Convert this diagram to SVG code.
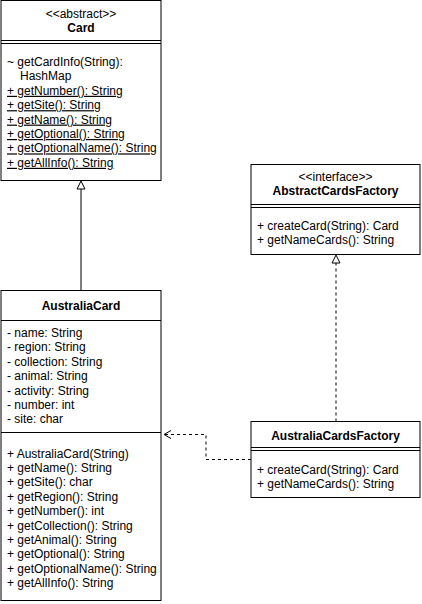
<svg xmlns="http://www.w3.org/2000/svg" width="422" height="604" viewBox="0 0 422 604">
<style>
text{font-family:"Liberation Sans",Arial,sans-serif;font-size:12px;fill:#000}
.c{text-anchor:middle}
.b{font-weight:bold}
.u{text-decoration:underline}
.box{fill:#fff;stroke:#000;stroke-width:1}
.ln{stroke:#000;stroke-width:1;fill:none}
.dash{stroke:#000;stroke-width:1;fill:none;stroke-dasharray:3 3}
</style>
<rect width="422" height="604" fill="#fff"/>
<g id="connectors">
  <path class="ln" d="M81 290.5V189"/>
  <path d="M81 181L85 189H77Z" fill="#fff" stroke="#000"/>
  <path class="dash" d="M336 421.5V263"/>
  <path d="M336 255L340 263H332Z" fill="#fff" stroke="#000"/>
  <path class="dash" d="M251 459.5H206V434.5H165"/>
  <path class="ln" d="M171 430.5L164 434.5L171 438.5"/>
</g>
<g id="Card">
  <rect class="box" x="1" y="0.5" width="160" height="180"/>
  <line class="ln" x1="1" y1="40.5" x2="161" y2="40.5"/>
  <line class="ln" x1="1" y1="43.5" x2="161" y2="43.5"/>
  <text class="c" x="81" y="18">&lt;&lt;abstract&gt;&gt;</text>
  <text class="c b" x="81" y="32.4">Card</text>
  <text x="7" y="66">~ getCardInfo(String):</text>
  <text x="20" y="80.4">HashMap</text>
  <text class="u" x="7" y="94.8">+ getNumber(): String</text>
  <text class="u" x="7" y="109.2">+ getSite(): String</text>
  <text class="u" x="7" y="123.6">+ getName(): String</text>
  <text class="u" x="7" y="138">+ getOptional(): String</text>
  <text class="u" x="7" y="152.4">+ getOptionalName(): String</text>
  <text class="u" x="7" y="166.8">+ getAllInfo(): String</text>
</g>
<g id="AustraliaCard">
  <rect class="box" x="1" y="290.5" width="160" height="310"/>
  <line class="ln" x1="1" y1="320.5" x2="161" y2="320.5"/>
  <line class="ln" x1="1" y1="432.5" x2="161" y2="432.5"/>
  <text class="c b" x="81" y="310">AustraliaCard</text>
  <text x="7" y="337">- name: String</text>
  <text x="7" y="351.4">- region: String</text>
  <text x="7" y="365.8">- collection: String</text>
  <text x="7" y="380.2">- animal: String</text>
  <text x="7" y="394.6">- activity: String</text>
  <text x="7" y="409">- number: int</text>
  <text x="7" y="423.4">- site: char</text>
  <text x="7" y="457.5">+ AustraliaCard(String)</text>
  <text x="7" y="471.9">+ getName(): String</text>
  <text x="7" y="486.3">+ getSite(): char</text>
  <text x="7" y="500.7">+ getRegion(): String</text>
  <text x="7" y="515.1">+ getNumber(): int</text>
  <text x="7" y="529.5">+ getCollection(): String</text>
  <text x="7" y="543.9">+ getAnimal(): String</text>
  <text x="7" y="558.3">+ getOptional(): String</text>
  <text x="7" y="572.7">+ getOptionalName(): String</text>
  <text x="7" y="587.1">+ getAllInfo(): String</text>
</g>
<g id="AbstractCardsFactory">
  <rect class="box" x="251" y="164.5" width="169" height="90"/>
  <line class="ln" x1="251" y1="204.5" x2="420" y2="204.5"/>
  <line class="ln" x1="251" y1="207.5" x2="420" y2="207.5"/>
  <text class="c" x="335.5" y="181">&lt;&lt;interface&gt;&gt;</text>
  <text class="c b" x="335.5" y="195.4">AbstractCardsFactory</text>
  <text x="257" y="230">+ createCard(String): Card</text>
  <text x="257" y="244.4">+ getNameCards(): String</text>
</g>
<g id="AustraliaCardsFactory">
  <rect class="box" x="251" y="421.5" width="169" height="76"/>
  <line class="ln" x1="251" y1="447.5" x2="420" y2="447.5"/>
  <line class="ln" x1="251" y1="450.5" x2="420" y2="450.5"/>
  <text class="c b" x="335.5" y="440">AustraliaCardsFactory</text>
  <text x="257" y="474">+ createCard(String): Card</text>
  <text x="257" y="488.4">+ getNameCards(): String</text>
</g>
</svg>
